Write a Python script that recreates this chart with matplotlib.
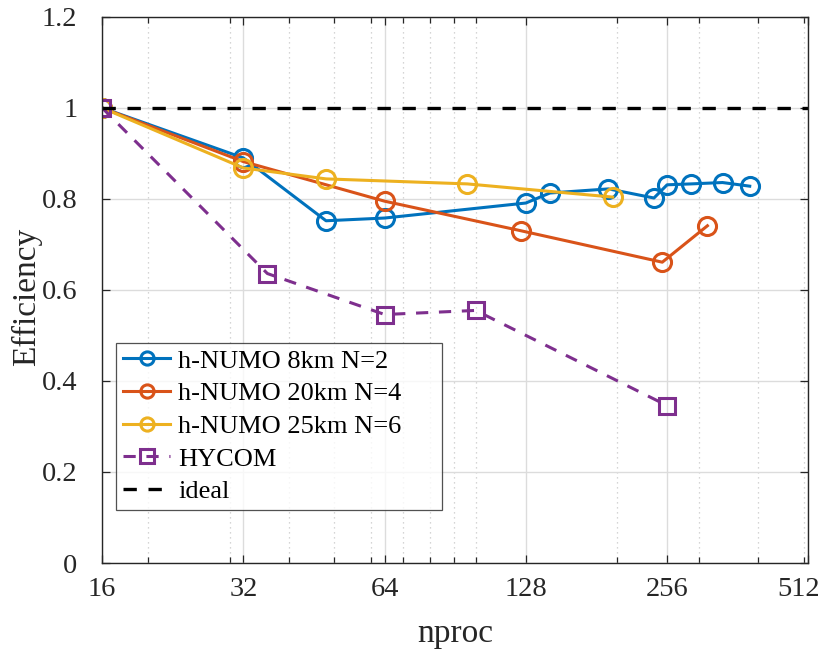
import matplotlib
matplotlib.use("Agg")
import matplotlib.pyplot as plt
from matplotlib.ticker import FixedLocator, NullFormatter
from matplotlib.transforms import ScaledTranslation

plt.rcParams['font.family'] = ['Liberation Serif', 'DejaVu Serif']
plt.rcParams['mathtext.fontset'] = 'stix'

# data
np8_x = [16, 32, 48, 64, 128, 144, 192, 240, 256, 288, 336, 384]
np8_y = [1.0, 0.890, 0.752, 0.758, 0.791, 0.813, 0.822, 0.802, 0.831, 0.833, 0.836, 0.828]

np20_x = [16, 32, 64, 125, 250, 312]
np20_y = [1.0, 0.882, 0.795, 0.730, 0.661, 0.741]

np25_x = [16, 32, 48, 96, 196]
np25_y = [1.0, 0.868, 0.844, 0.833, 0.804]

hycom_x = [16, 36, 64, 100, 256]
hycom_y = [1.0, 0.636, 0.546, 0.555, 0.346]

xticks = [16, 32, 64, 128, 256, 512]
minor_x = [20, 30, 40, 50, 60, 70, 80, 90, 100, 200, 300, 400, 500]
yticks = [0, 0.2, 0.4, 0.6, 0.8, 1.0, 1.2]
ytick_labels = ["0", "0.2", "0.4", "0.6", "0.8", "1", "1.2"]

fig = plt.figure(figsize=(8.24, 6.49), dpi=100)
ax = fig.add_axes([0.124, 0.1325, 0.857, 0.8415])

ms = 13
lw = 2.2
ax.plot(np8_x, np8_y, '-o', color='#0072BD', lw=lw, ms=ms, mfc='none', mew=2.2,
        label='h-NUMO 8km N=2')
ax.plot(np20_x, np20_y, '-o', color='#D95319', lw=lw, ms=ms, mfc='none', mew=2.2,
        label='h-NUMO 20km N=4')
ax.plot(np25_x, np25_y, '-o', color='#EDB120', lw=lw, ms=ms, mfc='none', mew=2.2,
        label='h-NUMO 25km N=6')
ax.plot(hycom_x, hycom_y, '--s', color='#7E2F8E', lw=lw, ms=11, mfc='none', mew=2.2,
        dashes=(4, 3.5), label='HYCOM')
ax.axhline(1.0, color='black', lw=2.4, ls=(0, (4, 3.5)), label='ideal')

ax.set_xscale('log', base=2)
ax.set_xlim(16, 512)
ax.set_ylim(0, 1.2)
ax.xaxis.set_major_locator(FixedLocator(xticks))
ax.set_xticklabels([str(t) for t in xticks])
ax.xaxis.set_minor_locator(FixedLocator(minor_x))
ax.xaxis.set_minor_formatter(NullFormatter())
ax.set_yticks(yticks)
ax.set_yticklabels(ytick_labels)

ax.grid(True, which='major', color='#dcdcdc', lw=1.0, ls='-')
ax.grid(True, which='minor', axis='x', color='#c8c8c8', lw=0.9, ls=(0, (1, 3)))
ax.set_axisbelow(True)

ax.tick_params(which='both', direction='in', top=True, right=True,
               labelsize=20.5, length=6, width=0.9, colors='#262626')
ax.tick_params(axis='x', pad=10)
ax.tick_params(axis='y', pad=18)
ax.tick_params(which='minor', length=4)
for s in ax.spines.values():
    s.set_color('#262626')
    s.set_linewidth(1.0)

# last x label is nudged left like the original so it stays inside the figure
last = ax.get_xticklabels()[-1]
last.set_transform(last.get_transform() + ScaledTranslation(-0.10, 0, fig.dpi_scale_trans))

ax.set_xlabel('nproc', fontsize=24, color='#262626', labelpad=12)
ax.set_ylabel('Efficiency', fontsize=24, color='#262626')
ax.yaxis.set_label_coords(-0.085, 0.488)

leg = ax.legend(loc='lower left', bbox_to_anchor=(0.0198, 0.097, 0.4618, 0),
                mode='expand', fontsize=19,
                handlelength=1.8, frameon=True, fancybox=False, borderpad=0.25,
                labelspacing=0.35, handletextpad=0.3, borderaxespad=0)
leg.get_frame().set_edgecolor('#262626')
leg.get_frame().set_linewidth(0.9)
for h in leg.get_lines():
    h.set_markersize(9.5)

fig.savefig('out.png', dpi=100)
